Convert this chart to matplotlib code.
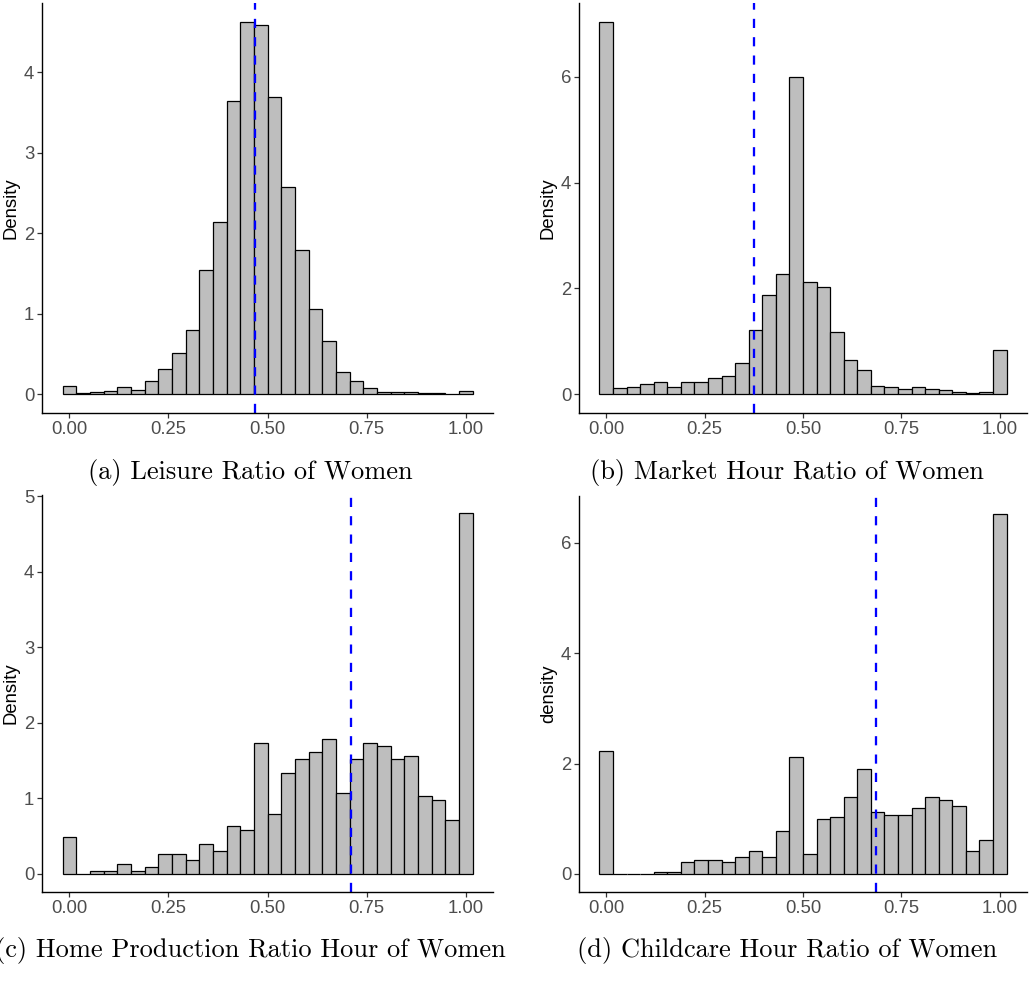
import numpy as np
import matplotlib
matplotlib.use("Agg")
import matplotlib.pyplot as plt

plt.rcParams["font.family"] = ["Liberation Sans", "DejaVu Sans"]

# 30 bins over [0, 1], ggplot style (centred on 0 and 1)
n_bins = 30
bin_centers = np.linspace(0, 1, n_bins)
bin_width = 1 / (n_bins - 1)

leisure = [0.10, 0.02, 0.03, 0.04, 0.09, 0.05, 0.165, 0.31, 0.51, 0.80,
           1.55, 2.14, 3.64, 4.63, 4.59, 3.69, 2.58, 1.79, 1.06, 0.66,
           0.28, 0.16, 0.08, 0.025, 0.025, 0.025, 0.012, 0.02, 0.004, 0.037]
market = [7.04, 0.12, 0.14, 0.19, 0.24, 0.14, 0.24, 0.23, 0.30, 0.34,
          0.60, 1.22, 1.88, 2.28, 6.00, 2.13, 2.02, 1.18, 0.64, 0.46,
          0.15, 0.14, 0.11, 0.14, 0.11, 0.09, 0.05, 0.02, 0.04, 0.83]
home = [0.49, 0.0, 0.04, 0.04, 0.13, 0.04, 0.09, 0.27, 0.27, 0.18,
        0.40, 0.31, 0.63, 0.58, 1.74, 0.80, 1.34, 1.52, 1.61, 1.79,
        1.07, 1.52, 1.74, 1.70, 1.52, 1.56, 1.03, 0.98, 0.72, 4.78]
childcare = [2.23, 0.0, 0.0, 0.0, 0.04, 0.04, 0.21, 0.25, 0.25, 0.21,
             0.31, 0.41, 0.31, 0.78, 2.12, 0.37, 1.00, 1.04, 1.40, 1.91,
             1.13, 1.07, 1.07, 1.19, 1.40, 1.34, 1.24, 0.41, 0.62, 6.52]

means = [0.4695, 0.375, 0.7105, 0.686]
ylabels = ["Density", "Density", "Density", "density"]
yticks = [[0, 1, 2, 3, 4], [0, 2, 4, 6], [0, 1, 2, 3, 4, 5], [0, 2, 4, 6]]
captions = ["(a) Leisure Ratio of Women", "(b) Market Hour Ratio of Women",
            "(c) Home Production Ratio Hour of Women",
            "(d) Childcare Hour Ratio of Women"]
series = [leisure, market, home, childcare]

fig = plt.figure(figsize=(10.29, 9.81), dpi=100)
W, H = 1029, 981
# panel boxes in pixels: left, top, right, bottom
boxes = [(42, 3, 493, 413), (579, 3, 1027, 413),
         (42, 495, 493, 892), (579, 496, 1027, 892)]
cap_pos = [(250, 472), (787, 472), (250, 950), (787, 950)]

for i in range(4):
    l, t, r, b = boxes[i]
    ax = fig.add_axes([l / W, 1 - b / H, (r - l) / W, (b - t) / H])
    h = np.array(series[i])
    ax.bar(bin_centers, h, width=bin_width, align="center",
           color="#BEBEBE", edgecolor="black", linewidth=0.9)
    ax.axvline(means[i], color="blue", linestyle=(0, (4, 4)), linewidth=1.65)
    xlo, xhi = -bin_width / 2, 1 + bin_width / 2
    pad = 0.05 * (xhi - xlo)
    ax.set_xlim(xlo - pad, xhi + pad)
    ax.set_ylim(-0.05 * h.max(), 1.05 * h.max())
    ax.set_xticks([0, 0.25, 0.5, 0.75, 1.0])
    ax.set_xticklabels(["0.00", "0.25", "0.50", "0.75", "1.00"])
    ax.set_yticks(yticks[i])
    ax.tick_params(axis="both", labelsize=13.3, labelcolor="#4D4D4D",
                   color="#333333", length=3.5, width=0.9, pad=2)
    for s in ["top", "right"]:
        ax.spines[s].set_visible(False)
    for s in ["left", "bottom"]:
        ax.spines[s].set_linewidth(1.0)
    ax.set_ylabel(ylabels[i], fontsize=13.3, labelpad=3)
    cx, cy = cap_pos[i]
    fig.text(cx / W, 1 - cy / H, captions[i], family="cmr10",
             fontsize=19, ha="center", va="center")

fig.savefig("out.png", dpi=100)
